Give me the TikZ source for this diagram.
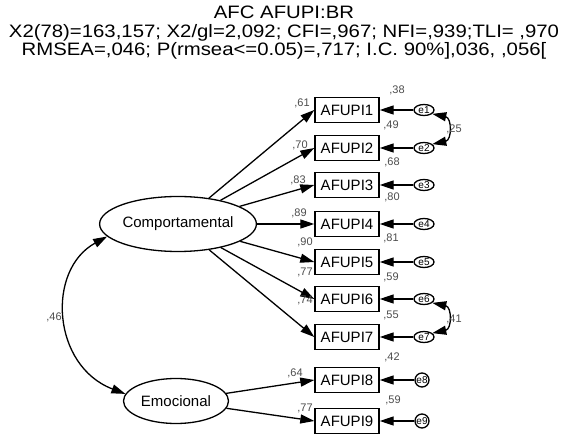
\documentclass[tikz,border=0pt]{standalone}
\usepackage{fontspec}
\setmainfont{Liberation Sans}
\usetikzlibrary{arrows.meta,shapes.geometric}

\tikzset{
  obs/.style={draw,line width=1.4pt,minimum width=64pt,minimum height=25pt,inner sep=0pt,font=\fontsize{15}{15}\selectfont},
  lat/.style={draw,ellipse,line width=1.3pt,inner sep=0pt,font=\fontsize{15}{15}\selectfont},
  err/.style={draw,ellipse,line width=1.3pt,minimum width=20pt,minimum height=11pt,inner sep=0pt,font=\fontsize{10}{10}\selectfont},
  errc/.style={draw,circle,line width=1.3pt,minimum size=14pt,inner sep=0pt,font=\fontsize{10}{10}\selectfont},
  num/.style={inner sep=0pt,text=black!70,font=\fontsize{11}{11}\selectfont},
  arr/.style={line width=1.3pt,-{Triangle[length=14pt,width=9pt]}},
  cov/.style={line width=1.3pt,{Triangle[length=14pt,width=9pt]}-{Triangle[length=14pt,width=9pt]}}
}

\begin{document}
\begin{tikzpicture}[x=1pt,y=-1pt]
  \useasboundingbox (0,0) rectangle (567,435);
  \node[anchor=north,inner sep=0pt,font=\fontsize{18}{17.5}\selectfont] (title) at (284,6)
    {\scalebox{1.13}[1]{\begin{tabular}{@{}c@{}}AFC AFUPI:BR\\X2(78)=163,157; X2/gl=2,092; CFI=,967; NFI=,939;TLI= ,970\\RMSEA=,046; P(rmsea<=0.05)=,717; I.C. 90\%],036, ,056[\end{tabular}}};
  % latent factors
  \node[lat,minimum width=131pt,minimum height=55pt] (comp) at (178,224) {Comportamental};
  \node[lat,minimum width=105pt,minimum height=45pt] (emo) at (176,401) {Emocional};
  % items and errors
  \foreach \i/\y in {1/110,2/148,3/185,4/224,5/262,6/299,7/337}{
    \node[obs] (b\i) at (347,\y) {AFUPI\i};
    \node[err] (e\i) at (424,\y) {e\i};
    \draw[arr] (e\i) -- (b\i);
    \draw[arr] (comp) -- (b\i.west);
  }
  \foreach \i/\y in {8/380,9/421}{
    \node[obs] (b\i) at (347,\y) {AFUPI\i};
    \node[errc] (e\i) at (422,\y) {e\i};
    \draw[arr] (e\i) -- (b\i);
    \draw[arr] (emo) -- (b\i.west);
  }
  % covariances
  \draw[cov] (comp.190) .. controls (46,270) and (52,366) .. (emo.172);
  \draw[cov] (e1.-25) .. controls (452,118) and (452,140) .. (e2.25);
  \draw[cov] (e6.-25) .. controls (452,307) and (452,329) .. (e7.25);
  \node[num] (c1) at (54,317) {,46};
  \node[num] (c2) at (454,129) {,25};
  \node[num] (c3) at (454,319) {,41};
  % loadings
  \foreach \i/\x/\y/\v in {1/302/103/61,2/300/145/70,3/298/180/83,4/299/213/89,5/305/242/90,6/305/272/77,7/305/300/74,8/295/373/64,9/305/408/77}
    \node[num] (l\i) at (\x,\y) {,\v};
  % squared multiple correlations
  \foreach \i/\x/\y/\v in {1/397/90/38,2/391/125/49,3/392/162/68,4/392/197/80,5/391/238/81,6/391/277/59,7/391/315/55,8/392/357/42,9/393/400/59}
    \node[num] (r\i) at (\x,\y) {,\v};
\end{tikzpicture}
\end{document}
